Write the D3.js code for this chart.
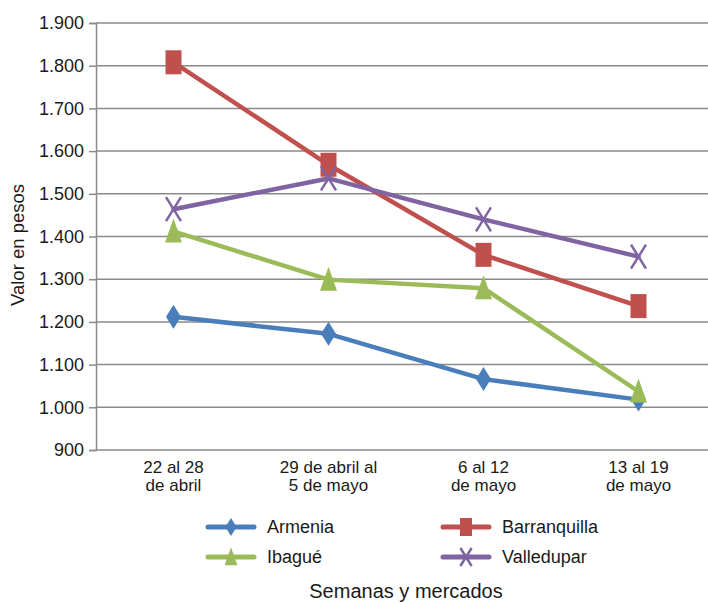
<!DOCTYPE html>
<html><head><meta charset="utf-8">
<script src="https://cdn.jsdelivr.net/npm/d3@7"></script>
<style>body{margin:0;background:#fff}svg{display:block;font-family:"Liberation Sans",Arial,sans-serif}</style>
</head><body><svg id="c" width="708" height="603"></svg>
<script>
const categories = ["22 al 28|de abril", "29 de abril al|5 de mayo", "6 al 12|de mayo", "13 al 19|de mayo"];
const armenia = [1212, 1172, 1066, 1018];
const barranquilla = [1808, 1568, 1357, 1237];
const ibague = [1412, 1299, 1279, 1037];
const valledupar = [1464, 1536, 1440, 1353];
const yTicks = [900, 1000, 1100, 1200, 1300, 1400, 1500, 1600, 1700, 1800, 1900];

const series = [
  {name: "Armenia", values: armenia, color: "#4a7ebb", marker: "diamond"},
  {name: "Barranquilla", values: barranquilla, color: "#c0504d", marker: "square"},
  {name: "Ibagué", values: ibague, color: "#9bbb59", marker: "triangle"},
  {name: "Valledupar", values: valledupar, color: "#8064a2", marker: "x"}
];

const svg = d3.select("#c");
const mLeft = 96, mRight = 716, mTop = 23, mBottom = 450;
const x = d3.scaleBand().domain(categories).range([mLeft, mRight]);
const y = d3.scaleLinear().domain([900, 1900]).range([mBottom, mTop]);
const fmt = v => d3.format(",")(v).replace(/,/g, ".");

// gridlines
svg.append("g").selectAll("line").data(yTicks).join("line")
  .attr("x1", mLeft).attr("x2", 708).attr("y1", d => y(d)).attr("y2", d => y(d))
  .attr("stroke", "#8a8a8a").attr("stroke-width", 1.5);

// y axis
const ya = svg.append("g").attr("transform", `translate(${mLeft},0)`)
  .call(d3.axisLeft(y).tickValues(yTicks).tickFormat(fmt).tickSize(7).tickPadding(5));
ya.select(".domain").attr("stroke", "#8a8a8a").attr("stroke-width", 1.5);
ya.selectAll(".tick line").attr("stroke", "#8a8a8a").attr("stroke-width", 1.5);
ya.selectAll("text").attr("font-size", 18).attr("fill", "#1a1a1a").attr("font-family", "Liberation Sans, Arial, sans-serif");

// x labels
const xl = svg.append("g");
categories.forEach(c => {
  const lines = c.split("|");
  const t = xl.append("text").attr("text-anchor", "middle").attr("font-size", 17).attr("fill", "#1a1a1a")
    .attr("x", x(c) + x.bandwidth() / 2).attr("y", 473);
  lines.forEach((l, i) => t.append("tspan").attr("x", x(c) + x.bandwidth() / 2).attr("dy", i ? 18 : 0).text(l));
});

// axis titles
svg.append("text").attr("transform", "translate(24,245) rotate(-90)").attr("text-anchor", "middle")
  .attr("font-size", 18.5).attr("fill", "#1a1a1a").text("Valor en pesos");
svg.append("text").attr("x", 406).attr("y", 598).attr("text-anchor", "middle")
  .attr("font-size", 20).attr("fill", "#1a1a1a").text("Semanas y mercados");

function drawMarker(g, type, cx, cy, color, scale) {
  const s = scale || 1;
  if (type === "diamond") {
    g.append("path").attr("d", `M${cx},${cy - 12 * s}L${cx + 7.5 * s},${cy}L${cx},${cy + 12 * s}L${cx - 7.5 * s},${cy}Z`).attr("fill", color);
  } else if (type === "square") {
    g.append("rect").attr("x", cx - 8 * s).attr("y", cy - 12 * s).attr("width", 16 * s).attr("height", 24 * s).attr("fill", color);
  } else if (type === "triangle") {
    g.append("path").attr("d", `M${cx},${cy - 13 * s}L${cx + 8.5 * s},${cy + 11 * s}L${cx - 8.5 * s},${cy + 11 * s}Z`).attr("fill", color);
  } else {
    g.append("path").attr("d", `M${cx - 7.5 * s},${cy - 12 * s}L${cx + 7.5 * s},${cy + 12 * s}M${cx + 7.5 * s},${cy - 12 * s}L${cx - 7.5 * s},${cy + 12 * s}`)
      .attr("stroke", color).attr("stroke-width", 2.5).attr("fill", "none");
  }
}

const line = d3.line().x((d, i) => x(categories[i]) + x.bandwidth() / 2).y(d => y(d));
const plot = svg.append("g");
series.forEach(s => {
  plot.append("path").attr("d", line(s.values)).attr("fill", "none").attr("stroke", s.color)
    .attr("stroke-width", 4.5).attr("stroke-linejoin", "round").attr("stroke-linecap", "round");
});
series.forEach(s => {
  s.values.forEach((v, i) => drawMarker(plot, s.marker, x(categories[i]) + x.bandwidth() / 2, y(v), s.color, 1));
});

// legend
const leg = svg.append("g");
const legPos = [[208, 527], [443, 527], [208, 557], [443, 557]];
series.forEach((s, i) => {
  const [lx, ly] = legPos[i];
  leg.append("line").attr("x1", lx).attr("x2", lx + 46).attr("y1", ly).attr("y2", ly)
    .attr("stroke", s.color).attr("stroke-width", 5).attr("stroke-linecap", "round");
  drawMarker(leg, s.marker, lx + 23, ly, s.color, 0.75);
  leg.append("text").attr("x", lx + 59).attr("y", ly + 6).attr("font-size", 18).attr("fill", "#1a1a1a").text(s.name);
});
</script></body></html>
